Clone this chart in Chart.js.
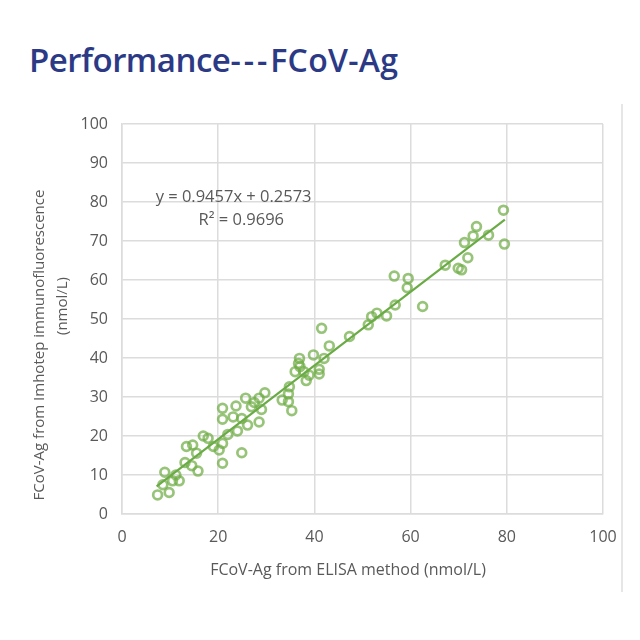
<!DOCTYPE html>
<html>
<head>
<meta charset="utf-8">
<script src="https://cdn.jsdelivr.net/npm/chart.js@4"></script>
<style>
  html, body { margin: 0; padding: 0; background: #fff; }
  #wrap { position: relative; width: 640px; height: 640px; overflow: hidden; }
  #title {
    position: absolute; left: 29px; top: 37px; white-space: nowrap;
    font-family: "Open Sans", sans-serif; font-weight: 600; color: #2c3a86;
  }
  #title .big { font-size: 33px; letter-spacing: -0.5px; }
  #title .dash { font-size: 32px; letter-spacing: 3px; }
  #title .small { font-size: 32px; letter-spacing: 0.3px; }
  #edge { position: absolute; left: 621px; top: 104px; width: 0; height: 488px; border-left: 2px solid #e6e6e6; }
  #sensorChart { position: absolute; left: 0; top: 0; }
</style>
</head>
<body>
<div id="wrap">
  <div id="title"><span class="big">Performance</span><span class="dash">---</span><span class="small">FCoV-Ag</span></div>
  <div id="edge"></div>
  <canvas id="sensorChart" width="640" height="640"></canvas>
</div>
<script>
// ELISA values (x) and Imhotep values (y)
const elisaValues = [7.4, 9.8, 8.9, 8.5, 10.5, 11.9, 11.2, 13.1, 14.5, 15.8,
    13.4, 14.7, 15.5, 16.9, 17.9, 19.0, 20.2, 20.9, 20.9, 20.9,
    20.9, 23.1, 23.7, 24.9, 24.0, 26.1, 24.9, 25.7, 26.9, 28.5,
    29.0, 29.7, 28.5, 33.3, 34.6, 34.6, 34.8, 35.3, 36.0, 36.9,
    37.0, 37.8, 38.3, 38.9, 39.8, 41.0, 41.0, 41.5, 42.0, 43.1,
    36.7, 47.3, 51.2, 51.9, 53.0, 55.0, 56.8, 56.6, 59.5, 59.3,
    62.5, 67.2, 69.9, 70.6, 71.2, 71.9, 73.0, 73.7, 76.2, 79.3,
    79.5, 27.5, 22.0];
const imhotepValues = [4.9, 5.5, 10.7, 7.5, 8.5, 8.5, 10.0, 13.2, 12.4, 11.0,
    17.3, 17.7, 15.6, 20.0, 19.4, 17.3, 16.4, 18.1, 13.0, 27.1,
    24.3, 24.9, 27.7, 24.5, 21.3, 22.8, 15.7, 29.7, 27.5, 29.7,
    26.8, 31.1, 23.6, 29.2, 30.8, 28.8, 32.6, 26.5, 36.5, 39.9,
    37.8, 36.5, 34.2, 35.6, 40.8, 37.1, 35.9, 47.6, 39.9, 43.1,
    38.6, 45.5, 48.5, 50.6, 51.5, 50.8, 53.6, 61.0, 60.4, 58.0,
    53.2, 63.8, 63.0, 62.6, 69.6, 65.7, 71.3, 73.7, 71.5, 77.9,
    69.2, 28.6, 20.4];

// trend line end points
const trendX = [7.2, 79.6];
const trendY = [7.1, 75.5];

const axisTicks = [0, 20, 40, 60, 80, 100];
const equationLines = ['y = 0.9457x + 0.2573', 'R\u00b2 = 0.9696'];
const xTitle = 'FCoV-Ag from ELISA method (nmol/L)';
const yTitle = ['FCoV-Ag from Imhotep immunofluorescence', '(nmol/L)'];

const textColor = '#595959';
const gridColor = '#dcdcdc';
const green = 'rgba(112, 173, 71, 0.72)';

// Trendline label and axis titles, placed like the Excel text boxes
const labelsPlugin = {
    id: 'excelLabels',
    afterDatasetsDraw(chart) {
        const ctx = chart.ctx;
        const xs = chart.scales.x;
        const ys = chart.scales.y;
        ctx.save();
        ctx.fillStyle = textColor;
        ctx.textAlign = 'center';
        ctx.textBaseline = 'middle';
        ctx.font = '16.5px "Open Sans", sans-serif';
        ctx.fillText(equationLines[0], xs.getPixelForValue(23.2), ys.getPixelForValue(81.3));
        ctx.fillText(equationLines[1], xs.getPixelForValue(24.8), ys.getPixelForValue(75.4));

        ctx.font = '16px "Open Sans", sans-serif';
        ctx.fillText(xTitle, 348, 570);

        ctx.font = '15px "Open Sans", sans-serif';
        ctx.translate(40, 345);
        ctx.rotate(-Math.PI / 2);
        ctx.fillText(yTitle[0], 0, 0);
        ctx.fillText(yTitle[1], 39, 23);
        ctx.restore();
    }
};

let points = elisaValues.map((x, i) => ({x: x, y: imhotepValues[i]}));
let trend = trendX.map((x, i) => ({x: x, y: trendY[i]}));

let ctx = document.getElementById('sensorChart').getContext('2d');
new Chart(ctx, {
    type: 'scatter',
    data: {
        datasets: [{
            label: 'Samples',
            data: points,
            backgroundColor: 'rgba(0,0,0,0)',
            borderColor: green,
            borderWidth: 2.7,
            pointRadius: 4.4,
            order: 2
        }, {
            label: 'Trend',
            type: 'line',
            data: trend,
            borderColor: '#6aab45',
            borderWidth: 2.2,
            pointRadius: 0,
            fill: false,
            order: 1
        }]
    },
    options: {
        responsive: false,
        animation: false,
        layout: {padding: {left: 0, top: 124, right: 37, bottom: 52}},
        plugins: {
            legend: {display: false},
            tooltip: {enabled: false}
        },
        scales: {
            x: {
                type: 'linear',
                min: 0, max: 100,
                afterFit(scale) { scale.height = 74; },
                afterBuildTicks(scale) { scale.ticks = axisTicks.map(v => ({value: v})); },
                grid: {color: gridColor, lineWidth: 1.5, drawTicks: false},
                border: {color: gridColor, width: 1.5},
                ticks: {color: textColor, padding: 14, font: {family: 'Open Sans', size: 16}}
            },
            y: {
                type: 'linear',
                min: 0, max: 100,
                afterFit(scale) { scale.width = 122; },
                ticks: {stepSize: 10, color: textColor, padding: 14, font: {family: 'Open Sans', size: 16}},
                grid: {color: gridColor, lineWidth: 1.5, drawTicks: false},
                border: {color: gridColor, width: 1.5}
            }
        }
    },
    plugins: [labelsPlugin]
});
</script>
</body>
</html>
